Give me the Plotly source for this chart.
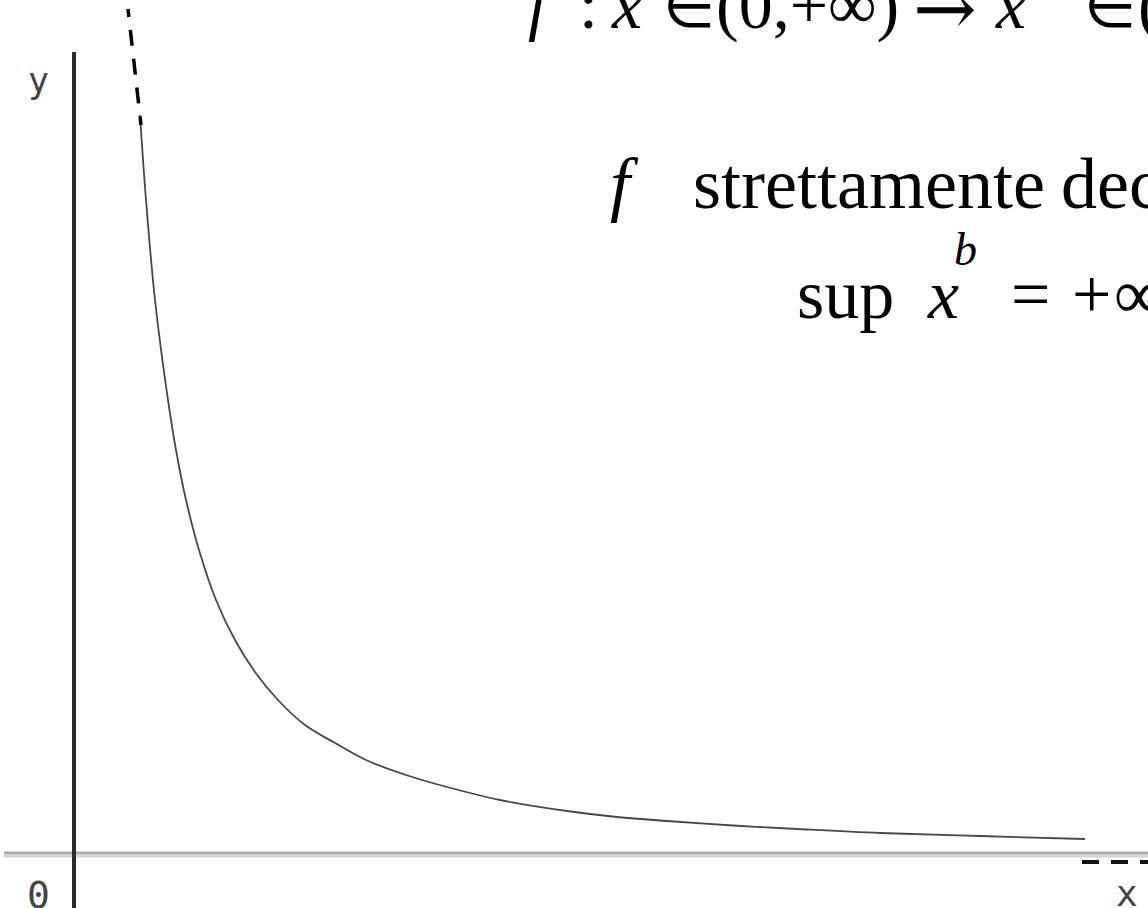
import plotly.graph_objects as go

W, H = 1148, 908

# Decreasing power function y = x^b (b < 0), sampled along the curve
curve_x = [0.665, 0.725, 0.815, 0.945, 1.025, 1.125, 1.255, 1.425, 1.615, 1.815,
           2.045, 2.315, 2.615, 2.925, 3.325, 3.735, 4.265, 4.935, 5.435, 5.935,
           6.595, 7.235, 8.065, 9.065, 10.115]
curve_y = [7.38, 6.53, 5.53, 4.53, 4.03, 3.53, 3.03, 2.53, 2.13, 1.81,
           1.53, 1.28, 1.10, 0.93, 0.78, 0.66, 0.53, 0.42, 0.36, 0.32,
           0.275, 0.24, 0.20, 0.17, 0.14]

# Dashed continuation towards +infinity near the y axis
upper_x = [0.545, 0.675]
upper_y = [8.44, 7.28]

# Dashed continuation along the x axis
tail_x = [10.085, 10.80]
tail_y = [-0.09, -0.09]

# Axis extents
x_range = [-0.735, 10.745]
y_range = [-0.55, 8.53]
yaxis_top = 8.01

fig = go.Figure()

fig.add_trace(go.Scatter(x=curve_x, y=curve_y, mode="lines",
                         line=dict(color="#474747", width=1.8, shape="spline", smoothing=1.0),
                         hoverinfo="skip", showlegend=False))
fig.add_trace(go.Scatter(x=upper_x, y=upper_y, mode="lines",
                         line=dict(color="#000000", width=3.5,
                                   dash="8px,13px,16px,13px,16px,13px,16px,13px,16px,13px"),
                         hoverinfo="skip", showlegend=False))
fig.add_trace(go.Scatter(x=tail_x, y=tail_y, mode="lines",
                         line=dict(color="#111111", width=4, dash="17px,12px"),
                         hoverinfo="skip", showlegend=False))

# Coordinate axes
fig.add_shape(type="line", x0=-0.695, x1=x_range[1] + 0.1, y0=0.0, y1=0.0,
              xref="x", yref="y", line=dict(color="#aaaaaa", width=3))
fig.add_shape(type="line", x0=-0.695, x1=x_range[1] + 0.1, y0=-0.03, y1=-0.03,
              xref="x", yref="y", line=dict(color="#d4d4d4", width=3))
fig.add_shape(type="line", x0=0.005, x1=0.005, y0=y_range[0] - 0.1, y1=yaxis_top,
              xref="x", yref="y", line=dict(color="#2b2b2b", width=4))


def px_x(p):
    return p / W


def px_y(p):
    return 1 - p / H


SERIF = "Liberation Serif, Times New Roman, serif"


def text_at(txt, left, baseline, size, italic=False, family=SERIF, color="#000000"):
    fig.add_annotation(
        x=px_x(left), y=px_y(baseline - 0.93 * size), xref="paper", yref="paper",
        xanchor="left", yanchor="top", showarrow=False,
        text=txt, align="left", borderpad=0,
        font=dict(family=family, size=size, color=color,
                  style="italic" if italic else "normal"),
    )


# Line 1: f : x ∈ (0,+∞) → x^b ∈ (0,+∞)
S1, BL1 = 68, 29
text_at("f", 527, BL1, S1, italic=True)
text_at(":", 578, BL1, S1)
text_at("x", 610, BL1, S1, italic=True)
text_at("∈", 662, BL1, 60)
text_at("(0,+∞)", 715, BL1, S1)
text_at("→", 912, BL1 + 5, 76, family="DejaVu Serif, serif")
text_at("x", 994, BL1, S1, italic=True)
text_at("∈", 1083, BL1, 60)
text_at("(0,+∞)", 1137, BL1, S1)

# Line 2: f strettamente decrescente
S2, BL2 = 72, 210
text_at("f", 609, BL2, S2, italic=True)
text_at("strettamente", 692, BL2, S2)
text_at("decrescente", 1060, BL2, S2)

# Line 3: sup x^b = +∞
S3, BL3 = 70, 320
text_at("sup", 796, BL3, S3)
text_at("x", 926, BL3, S3, italic=True)
text_at("b", 953, BL3 - 54, 46, italic=True)
text_at("=", 1010, BL3, S3)
text_at("+", 1071, BL3, S3)
text_at("∞", 1113, BL3, S3)

# Axis labels
MONO = "DejaVu Sans Mono, monospace"


def axis_label(txt, cx, cy, size):
    fig.add_annotation(x=px_x(cx), y=px_y(cy), xref="paper", yref="paper",
                       xanchor="center", yanchor="middle", text=txt, showarrow=False,
                       font=dict(family=MONO, size=size, color="#444444"))


axis_label("y", 38, 81, 35)
axis_label("0", 38, 895, 38)
axis_label("x", 1127, 893, 36)

fig.update_xaxes(range=x_range, visible=False, fixedrange=True)
fig.update_yaxes(range=y_range, visible=False, fixedrange=True)
fig.update_layout(width=W, height=H, margin=dict(l=0, r=0, t=0, b=0),
                  plot_bgcolor="white", paper_bgcolor="white", showlegend=False)

fig.write_html("out.html", config={"displayModeBar": False})
